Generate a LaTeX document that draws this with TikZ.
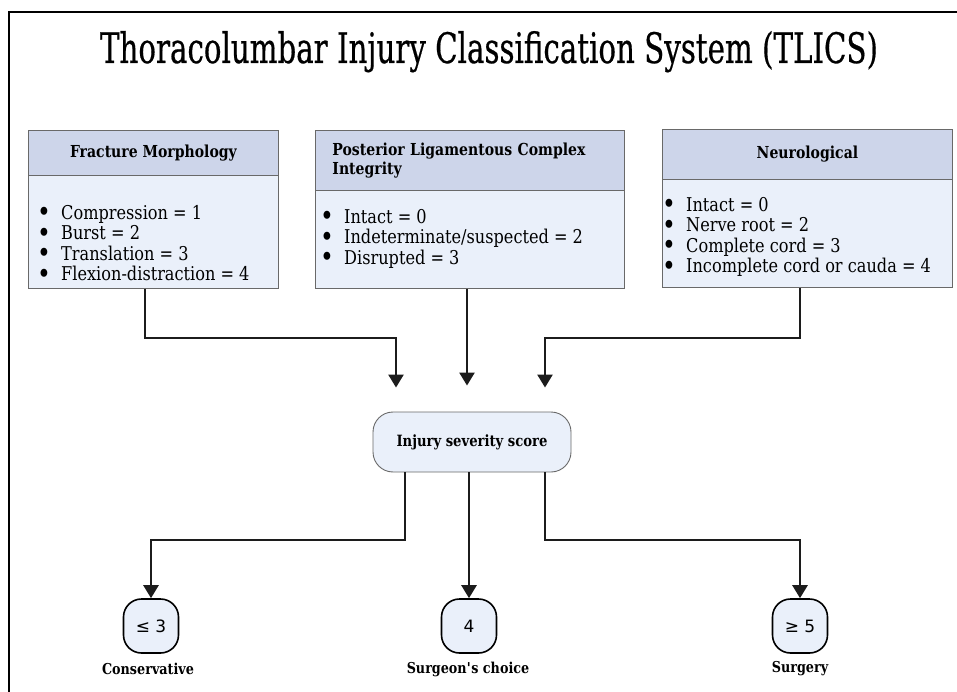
\documentclass[tikz,border=0pt]{standalone}
\usepackage{fontspec}
\setmainfont{DejaVu Serif}[FakeStretch=0.85]
\newfontfamily\titlefont{DejaVu Serif}[FakeBold=0.6]
\newfontfamily\numfont{DejaVu Sans}
\usetikzlibrary{arrows.meta}
\definecolor{hdrfill}{RGB}{205,213,234}
\definecolor{bodyfill}{RGB}{234,240,250}
\definecolor{bordergray}{RGB}{105,105,105}
\definecolor{arrowcol}{RGB}{28,28,28}
\newcommand\bitem[1]{\makebox[24pt][l]{\raisebox{-2.6pt}[0pt][0pt]{\scalebox{1.45}{\textbullet}}}#1}
\begin{document}
\begin{tikzpicture}[x=1pt,y=-1pt,
  hdr/.style={draw=bordergray, fill=hdrfill, line width=0.9pt, anchor=north west, inner sep=0pt,
    font=\fontsize{16.5}{19}\selectfont\bfseries},
  bodybox/.style={draw=bordergray, fill=bodyfill, line width=0.9pt, anchor=north west, inner sep=0pt},
  items/.style={anchor=north west, inner sep=0pt, align=left, font=\fontsize{19}{20.5}\selectfont},
  arr/.style={line width=2.5pt, draw=arrowcol, -{Triangle[width=15pt,length=13pt]}},
  issbox/.style={draw=bordergray, fill=bodyfill, line width=0.9pt, rounded corners=20pt,
    minimum width=198pt, minimum height=60pt, inner sep=0pt, font=\fontsize{15.5}{18}\selectfont\bfseries},
  score/.style={draw=black, fill=bodyfill, line width=1.6pt, rounded corners=18pt,
    minimum width=55pt, minimum height=54pt, inner sep=0pt, font=\numfont\fontsize{17}{20}\selectfont},
  lbl/.style={inner sep=0pt, font=\fontsize{15}{18}\selectfont\bfseries}
]
\useasboundingbox (0,0) rectangle (957,692);
% frame
\draw[line width=2pt] (9,692) -- (9,12) -- (957,12);
% title
\node[anchor=base, inner sep=0pt] (title) at (489,63)
  {\resizebox{778pt}{\height}{\titlefont\fontsize{42}{42}\selectfont Thoracolumbar Injury Classification System (TLICS)}};

% box 1
\node[hdr, minimum width=250pt, minimum height=45pt] (h1) at (28,130) {Fracture Morphology};
\node[bodybox, minimum width=250pt, minimum height=113pt] (b1) at (28,175) {};
\node[items] (i1) at (37,205) {\bitem{Compression = 1}\\ \bitem{Burst = 2}\\ \bitem{Translation = 3}\\ \bitem{Flexion-distraction = 4}};

% box 2
\node[hdr, minimum width=309pt, minimum height=60pt, text width=275pt, inner xsep=17pt, align=left] (h2) at (315,130)
  {Posterior Ligamentous Complex\\ Integrity};
\node[bodybox, minimum width=309pt, minimum height=98pt] (b2) at (315,190) {};
\node[items] (i2) at (320,209) {\bitem{Intact = 0}\\ \bitem{Indeterminate/suspected = 2}\\ \bitem{Disrupted = 3}};

% box 3
\node[hdr, minimum width=290pt, minimum height=50pt] (h3) at (662,129) {Neurological};
\node[bodybox, minimum width=290pt, minimum height=108pt] (b3) at (662,179) {};
\node[items] (i3) at (662,197) {\bitem{Intact = 0}\\ \bitem{Nerve root = 2}\\ \bitem{Complete cord = 3}\\ \bitem{Incomplete cord or cauda = 4}};

% injury severity score
\node[issbox] (iss) at (472,442) {Injury severity score};

% upper connectors
\coordinate (e1) at (145,338);
\coordinate (e3) at (800,338);
\coordinate (t1) at (396,0);
\coordinate (t2) at (467,0);
\coordinate (t3) at (545,0);
\draw[arr, shorten >=24pt] (b1.south -| e1) -- (e1) -| (iss.north -| t1);
\draw[arr, shorten >=26pt] (b2.south -| t2) -- (iss.north -| t2);
\draw[arr, shorten >=24pt] (b3.south -| e3) -- (e3) -| (iss.north -| t3);

% outcomes
\node[score] (c1) at (151,626) {≤ 3};
\node[score] (c2) at (469,626) {4};
\node[score] (c3) at (800,626) {≥ 5};
\node[lbl] (l1) at (148,669) {Conservative};
\node[lbl] (l2) at (468,669) {Surgeon\textquotesingle s choice};
\node[lbl] (l3) at (800,669) {Surgery};

% lower connectors
\coordinate (f1) at (405,540);
\coordinate (f3) at (545,540);
\draw[arr] (iss.south -| f1) -- (f1) -| (c1.north);
\draw[arr] (iss.south -| c2) -- (c2.north);
\draw[arr] (iss.south -| f3) -- (f3) -| (c3.north);
\end{tikzpicture}
\end{document}
